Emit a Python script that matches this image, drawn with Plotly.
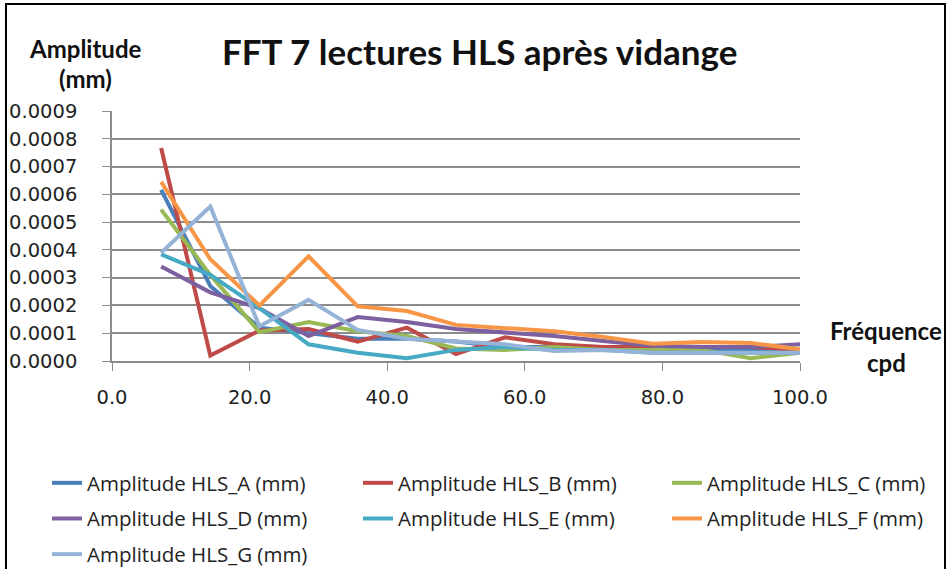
import plotly.graph_objects as go

# Frequencies (cycles per day)
freq = [100 * k / 14 for k in range(1, 15)]

# FFT amplitudes (mm) for each HLS sensor
amp_a = [0.000616, 0.00027, 0.00012, 0.000100, 0.00008, 0.00008, 0.00007, 0.00005, 0.00005, 0.00004, 0.00004, 0.00004, 0.00004, 0.00003]
amp_b = [0.000767, 0.00002, 0.00011, 0.000115, 0.00007, 0.00012, 0.000025, 0.000085, 0.00006, 0.00005, 0.00005, 0.00005, 0.00005, 0.00004]
amp_c = [0.000545, 0.00031, 0.000104, 0.000140, 0.000107, 0.00009, 0.000045, 0.00004, 0.00005, 0.00004, 0.00004, 0.00004, 0.00001, 0.00003]
amp_d = [0.00034, 0.000247, 0.00019, 0.00009, 0.000158, 0.00014, 0.000115, 0.000104, 0.00009, 0.000072, 0.000055, 0.00005, 0.00005, 0.00006]
amp_e = [0.000384, 0.00031, 0.00019, 0.00006, 0.00003, 0.00001, 0.00004, 0.00005, 0.00004, 0.00004, 0.00003, 0.00003, 0.00003, 0.00003]
amp_f = [0.000645, 0.000366, 0.0002, 0.000377, 0.000197, 0.00018, 0.00013, 0.00012, 0.000107, 0.000086, 0.000062, 0.000068, 0.000065, 0.000042]
amp_g = [0.00039, 0.000556, 0.000125, 0.00022, 0.000112, 0.00008, 0.00007, 0.00006, 0.000036, 0.00004, 0.00003, 0.00003, 0.00003, 0.00003]

series = [
    ("Amplitude HLS_A (mm)", amp_a, "#4A7EBB"),
    ("Amplitude HLS_B (mm)", amp_b, "#BE4B48"),
    ("Amplitude HLS_C (mm)", amp_c, "#98B954"),
    ("Amplitude HLS_D (mm)", amp_d, "#7D60A0"),
    ("Amplitude HLS_E (mm)", amp_e, "#46AAC5"),
    ("Amplitude HLS_F (mm)", amp_f, "#F79646"),
    ("Amplitude HLS_G (mm)", amp_g, "#95B3D7"),
]

W, H = 949, 569
L, R, T, B = 112, 149, 111, 208
pw, ph = W - L - R, H - T - B


def px_x(p):
    return (p - L) / pw


def px_y(p):
    return (H - B - p) / ph


# legend laid out in three columns (entries fill rows left to right)
legend_cols = ["legend", "legend2", "legend3", "legend", "legend2", "legend3", "legend"]
col_x = {"legend": 47, "legend2": 358, "legend3": 667}

fig = go.Figure()
for i, ((name, vals, color), lg) in enumerate(zip(series, legend_cols)):
    fig.add_trace(go.Scatter(
        x=freq, y=vals, name=name, mode="lines",
        line=dict(color=color, width=4),
        legend=lg, legendgroup=f"g{i}",
    ))

grid = "#8C8C8C"
tick_font = dict(size=19.5, family="DejaVu Sans", color="#222222")
legend_font = dict(size=20.5, family="Open Sans", color="#222222")
label_font = dict(size=24, family="Lato", color="#111111")


def legend_cfg(key):
    return dict(
        orientation="v",
        x=px_x(col_x[key]), y=px_y(463), xanchor="left", yanchor="top",
        font=legend_font, itemwidth=30, tracegroupgap=6,
        bgcolor="rgba(0,0,0,0)",
    )


fig.update_layout(
    width=W, height=H,
    margin=dict(l=L, r=R, t=T, b=B, autoexpand=False),
    paper_bgcolor="white", plot_bgcolor="white",
    showlegend=True,
    font=dict(family="Open Sans", color="#222222"),
    xaxis=dict(
        range=[0, 100], dtick=20, tickformat=".1f",
        showgrid=False, zeroline=False,
        showline=True, linecolor=grid, linewidth=1.5,
        ticks="outside", ticklen=8, tickcolor=grid,
        tickfont=tick_font,
        ticklabelstandoff=10,
    ),
    yaxis=dict(
        range=[0, 0.0009], dtick=0.0001, tickformat=".4f",
        showgrid=True, gridcolor=grid, gridwidth=1.5,
        zeroline=False,
        showline=True, linecolor=grid, linewidth=1.5,
        ticks="outside", ticklen=8, tickcolor=grid,
        tickfont=tick_font,
        ticklabelstandoff=21,
    ),
    legend=legend_cfg("legend"),
    legend2=legend_cfg("legend2"),
    legend3=legend_cfg("legend3"),
    shapes=[dict(
        type="rect", xref="paper", yref="paper",
        x0=px_x(6), x1=px_x(945), y0=px_y(620), y1=px_y(4),
        line=dict(color="black", width=2), fillcolor="rgba(0,0,0,0)",
        layer="below",
    )],
    annotations=[
        dict(text="<b>FFT 7 lectures HLS après vidange</b>",
             xref="paper", yref="paper", x=px_x(480), y=px_y(51),
             xanchor="center", yanchor="middle", showarrow=False,
             font=dict(size=35, family="Lato", color="#111111")),
        dict(text="<b>Amplitude</b>", xref="paper", yref="paper",
             x=px_x(85), y=px_y(48), xanchor="center", yanchor="middle",
             showarrow=False, font=label_font),
        dict(text="<b>(mm)</b>", xref="paper", yref="paper",
             x=px_x(85), y=px_y(78), xanchor="center", yanchor="middle",
             showarrow=False, font=label_font),
        dict(text="<b>Fréquence</b>", xref="paper", yref="paper",
             x=px_x(886), y=px_y(330), xanchor="center", yanchor="middle",
             showarrow=False, font=label_font),
        dict(text="<b>cpd</b>", xref="paper", yref="paper",
             x=px_x(886), y=px_y(362), xanchor="center", yanchor="middle",
             showarrow=False, font=label_font),
    ],
)

fig.write_html("out.html")
